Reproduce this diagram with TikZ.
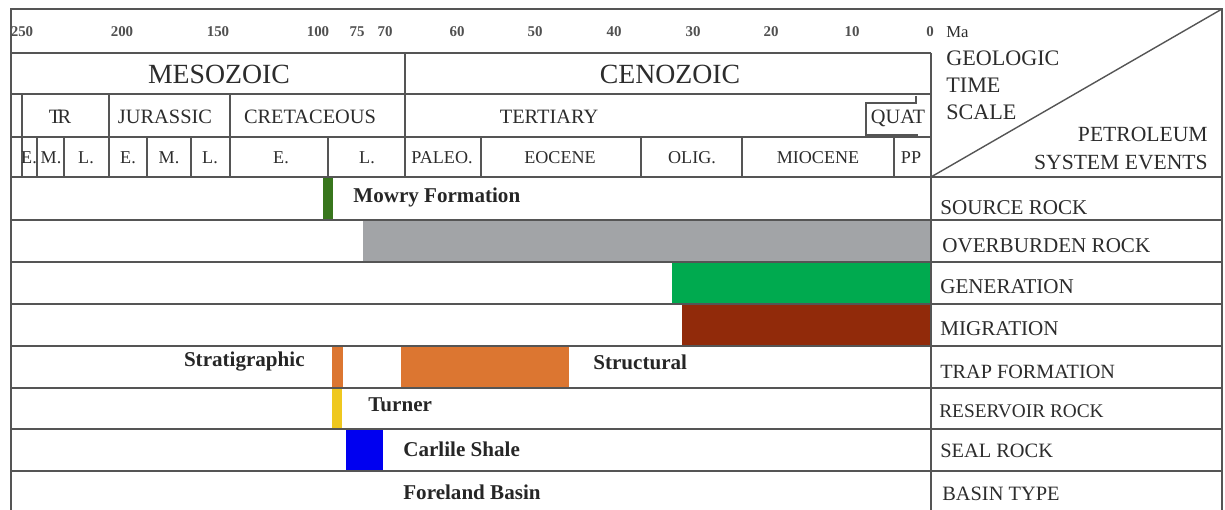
\documentclass[tikz,border=0pt]{standalone}
\usepackage{fontspec}
\setmainfont{Liberation Serif}
\usetikzlibrary{positioning}
\definecolor{linegray}{HTML}{555555}
\definecolor{txtgray}{HTML}{2C2C2C}
\definecolor{tickgray}{HTML}{505050}
\definecolor{mowrygreen}{HTML}{38761D}
\definecolor{burdengray}{HTML}{A2A4A7}
\definecolor{gengreen}{HTML}{00AA4F}
\definecolor{migbrown}{HTML}{912A0A}
\definecolor{traporange}{HTML}{DC7631}
\definecolor{resyellow}{HTML}{EFC81F}
\definecolor{sealblue}{HTML}{0000F0}

\begin{document}
\begin{tikzpicture}
        [x=0.02cm, y=-0.02cm,
        grid/.style={draw=linegray, line width=0.8pt},
        tick/.style={font=\fontsize{8.5}{9}\selectfont\bfseries, text=tickgray, inner sep=0pt},
        era/.style={font=\fontsize{15.8}{17}\selectfont, text=txtgray, inner sep=0pt},
        period/.style={font=\fontsize{11.6}{13}\selectfont, text=txtgray, inner sep=0pt},
        epoch/.style={font=\fontsize{10.3}{12}\selectfont, text=txtgray, inner sep=0pt},
        title/.style={font=\fontsize{12.6}{14}\selectfont, text=txtgray, inner sep=0pt},
        event/.style={font=\fontsize{12}{14}\selectfont, text=txtgray, anchor=west, inner sep=0pt},
        unit/.style={font=\fontsize{12}{14}\selectfont\bfseries, text=black!85, inner sep=0pt}]
        \useasboundingbox (0,0) rectangle (1225,510);
        % event bars
        \fill[mowrygreen] (323,178) rectangle (333,220);
        \fill[burdengray] (363,220) rectangle (931,262);
        \fill[gengreen] (672,262) rectangle (931,304);
        \fill[migbrown] (682,304) rectangle (931,346);
        \fill[traporange] (332,346) rectangle (343,388);
        \fill[traporange] (401,346) rectangle (569,388);
        \fill[resyellow] (332,388) rectangle (342,429);
        \fill[sealblue] (346,429) rectangle (383,471);
        % frame and rows
        \draw[grid] (11,510) -- (11,9) -- (1222,9) -- (1222,510);
        \draw[grid] (11,53) -- (931,53);
        \draw[grid] (11,94) -- (931,94);
        \draw[grid] (11,137) -- (931,137);
        \draw[grid] (11,177) -- (1222,177);
        \draw[grid] (11,220) -- (1222,220);
        \draw[grid] (11,262) -- (1222,262);
        \draw[grid] (11,304) -- (1222,304);
        \draw[grid] (11,346) -- (1222,346);
        \draw[grid] (11,388) -- (1222,388);
        \draw[grid] (11,429) -- (1222,429);
        \draw[grid] (11,471) -- (1222,471);
        \draw[grid] (931,53) -- (931,510);
        \draw[grid] (931,177) -- (1222,9);
        % time scale cells
        \draw[grid] (405,53) -- (405,177);
        \draw[grid] (22,94) -- (22,177);
        \draw[grid] (109,94) -- (109,177);
        \draw[grid] (230,94) -- (230,177);
        \draw[grid] (37,137) -- (37,177);
        \draw[grid] (64,137) -- (64,177);
        \draw[grid] (147,137) -- (147,177);
        \draw[grid] (191,137) -- (191,177);
        \draw[grid] (328,137) -- (328,177);
        \draw[grid] (481,137) -- (481,177);
        \draw[grid] (641,137) -- (641,177);
        \draw[grid] (742,137) -- (742,177);
        \draw[grid] (894,137) -- (894,177);
        \draw[draw=linegray, line width=0.6pt] (916,96) -- (916,103) -- (866,103) -- (866,135) -- (918,135);
        % ages
        \node[tick] (t250) at (22,32) {250};
        \node[tick] (t200) at (122,32) {200};
        \node[tick] (t150) at (218,32) {150};
        \node[tick] (t100) at (318,32) {100};
        \node[tick] (t75) at (357,32) {75};
        \node[tick] (t70) at (385,32) {70};
        \node[tick] (t60) at (457,32) {60};
        \node[tick] (t50) at (535,32) {50};
        \node[tick] (t40) at (614,32) {40};
        \node[tick] (t30) at (693,32) {30};
        \node[tick] (t20) at (771,32) {20};
        \node[tick] (t10) at (852,32) {10};
        \node[tick] (t0) at (930,32) {0};
        \node[font=\fontsize{9.5}{11}\selectfont, text=txtgray, inner sep=0pt, anchor=west] (ma) at (946,32) {Ma};
        % eras, periods, epochs
        \node[era] (meso) at (219,74) {MESOZOIC};
        \node[era] (ceno) at (670,74) {CENOZOIC};
        \node[period] (tr) at (60,117) {T\kern-2.2pt R};
        \node[period] (jur) at (165,117) {JURASSIC};
        \node[period] (cret) at (310,117) {CRETACEOUS};
        \node[period] (tert) at (549,117) {TERTIARY};
        \node[period] (quat) at (898,118) {QUAT};
        \node[epoch] (e1) at (29,158) {E.};
        \node[epoch] (m1) at (51,158) {M.};
        \node[epoch] (l1) at (86,158) {L.};
        \node[epoch] (e2) at (128,158) {E.};
        \node[epoch] (m2) at (169,158) {M.};
        \node[epoch] (l2) at (210,158) {L.};
        \node[epoch] (e3) at (281,158) {E.};
        \node[epoch] (l3) at (367,158) {L.};
        \node[epoch] (paleo) at (442,158) {PALEO.};
        \node[epoch] (eoc) at (560,158) {EOCENE};
        \node[epoch] (olig) at (692,158) {OLIG.};
        \node[epoch] (mio) at (818,158) {MIOCENE};
        \node[epoch] (pp) at (911,158) {PP};
        % corner titles
        \node[title, anchor=north west, align=left, font=\fontsize{12.6}{15.5}\selectfont] (gts) at (946,50) {GEOLOGIC\\TIME\\SCALE};
        \node[title, anchor=south east, align=right, font=\fontsize{12.3}{15.8}\selectfont] (pse) at (1208,170) {PETROLEUM\\SYSTEM EVENTS};
        % event names
        \node[event] (src) at (940,208) {SOURCE ROCK};
        \node[event] (ovb) at (942,246) {OVERBURDEN ROCK};
        \node[event] (gen) at (940,287) {GENERATION};
        \node[event] (mig) at (940,329) {MIGRATION};
        \node[event, font=\fontsize{11.5}{14}\selectfont] (trap) at (940,372) {TRAP FORMATION};
        \node[event, font=\fontsize{11}{14}\selectfont] (res) at (939,411) {RESERVOIR ROCK};
        \node[event, font=\fontsize{11.6}{14}\selectfont] (seal) at (940,451) {SEAL ROCK};
        \node[event, font=\fontsize{11.6}{14}\selectfont] (bas) at (942,494) {BASIN TYPE};
        % units
        \node[unit, anchor=west] (mowry) at (353,197) {Mowry Formation};
        \node[unit, anchor=east] (strat) at (305,362) {Stratigraphic};
        \node[unit, anchor=west] (struc) at (593,362) {Structural};
        \node[unit, anchor=west] (turner) at (368,405) {Turner};
        \node[unit, anchor=west] (carlile) at (403,449) {Carlile Shale};
        \node[unit, anchor=west] (foreland) at (403,492) {Foreland Basin};
\end{tikzpicture}
\end{document}
